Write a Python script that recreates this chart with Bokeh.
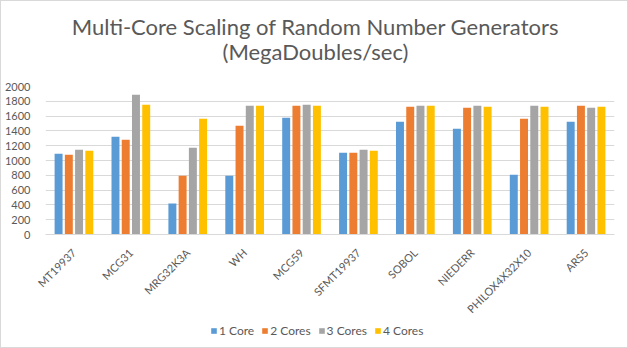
from bokeh.plotting import figure
from bokeh.layouts import column
from bokeh.models import ColumnDataSource, Label, Legend, LegendItem, FactorRange, SingleIntervalTicker
from bokeh.transform import dodge
from bokeh.embed import file_html
from bokeh.resources import INLINE
import math

categories = ["MT19937", "MCG31", "MRG32K3A", "WH", "MCG59", "SFMT19937",
              "SOBOL", "NIEDERR", "PHILOX4X32X10", "ARS5"]
series_names = ["1 Core", "2 Cores", "3 Cores", "4 Cores"]
core1 = [1092, 1321, 418, 795, 1577, 1105, 1523, 1429, 809, 1523]
core2 = [1079, 1281, 795, 1470, 1739, 1105, 1726, 1712, 1564, 1739]
core3 = [1146, 1888, 1173, 1739, 1753, 1146, 1739, 1739, 1739, 1712]
core4 = [1132, 1753, 1564, 1739, 1739, 1132, 1739, 1726, 1726, 1726]
colors = ["#5B9BD5", "#ED7D31", "#A5A5A5", "#FFC000"]
title_lines = ["Multi-Core Scaling of Random Number Generators", "(MegaDoubles/sec)"]

FONT = "Lato"
TXT = "#595959"
W = 626
HEADER_H = 77
MAIN_H = 8 + 148 + 88

# ---- header with the two title lines
header = figure(width=W, height=HEADER_H, x_range=(0, 1), y_range=(0, 1),
                output_backend="svg", toolbar_location=None, title=None,
                x_axis_location=None, y_axis_location=None, min_border=0)
header.grid.visible = False
header.outline_line_color = None
for txt, ybase in zip(title_lines, [52, 27]):
    header.add_layout(Label(x=270, y=ybase, x_units="screen", y_units="screen", text=txt,
                            text_align="center", text_baseline="alphabetic",
                            text_font=FONT, text_font_size="22px", text_color=TXT))

# ---- main chart
source = ColumnDataSource(data=dict(cat=categories, c1=core1, c2=core2, c3=core3, c4=core4))
p = figure(x_range=FactorRange(*categories), y_range=(0, 2000),
           width=W, height=MAIN_H, output_backend="svg", toolbar_location=None,
           title=None, min_border_left=41, min_border_right=13,
           min_border_top=8, min_border_bottom=88)

offsets = [-0.27, -0.09, 0.09, 0.27]
cols = ["c1", "c2", "c3", "c4"]
for col, off, color in zip(cols, offsets, colors):
    p.vbar(x=dodge("cat", off, range=p.x_range), top=col, width=0.14,
           source=source, color=color, line_color=None)

p.yaxis.ticker = SingleIntervalTicker(interval=200)
p.yaxis.axis_line_color = None
p.yaxis.major_tick_line_color = None
p.yaxis.minor_tick_line_color = None
p.yaxis.major_label_text_font = FONT
p.yaxis.major_label_text_font_size = "11px"
p.yaxis.major_label_text_color = TXT
p.yaxis.major_label_standoff = 9

p.xaxis.axis_line_color = "#d9d9d9"
p.xaxis.major_tick_line_color = None
p.xaxis.minor_tick_line_color = None
p.xaxis.major_label_orientation = math.pi / 4
p.xaxis.major_label_text_font = FONT
p.xaxis.major_label_text_font_size = "11px"
p.xaxis.major_label_text_color = TXT
p.xaxis.major_label_standoff = 10

p.xgrid.grid_line_color = None
p.ygrid.grid_line_color = "#d9d9d9"
p.outline_line_color = None
p.x_range.range_padding = 0
p.x_range.group_padding = 0

# ---- footer with the legend (swatch renderers have zero height, nothing visible)
footer = figure(width=W, height=346 - HEADER_H - MAIN_H, x_range=(0, 1), y_range=(0, 1),
                output_backend="svg", toolbar_location=None, title=None,
                x_axis_location=None, y_axis_location=None, min_border=0)
footer.grid.visible = False
footer.outline_line_color = None
items = []
for color, name in zip(colors, series_names):
    r = footer.vbar(x=[0.5], top=[0], width=0.1, color=color, line_color=None)
    items.append(LegendItem(label=name, renderers=[r]))
legend = Legend(items=items, orientation="horizontal", location=(165, 9),
                label_text_font=FONT, label_text_font_size="12px", label_text_color=TXT,
                glyph_width=7, glyph_height=7, label_standoff=2, spacing=7,
                border_line_color=None, background_fill_alpha=0,
                padding=2, margin=0, label_height=12)
footer.add_layout(legend, "center")

layout = column(header, p, footer, spacing=0,
                styles={"border": "1px solid #d9d9d9"})

open("out.html", "w").write(file_html(layout, INLINE))
